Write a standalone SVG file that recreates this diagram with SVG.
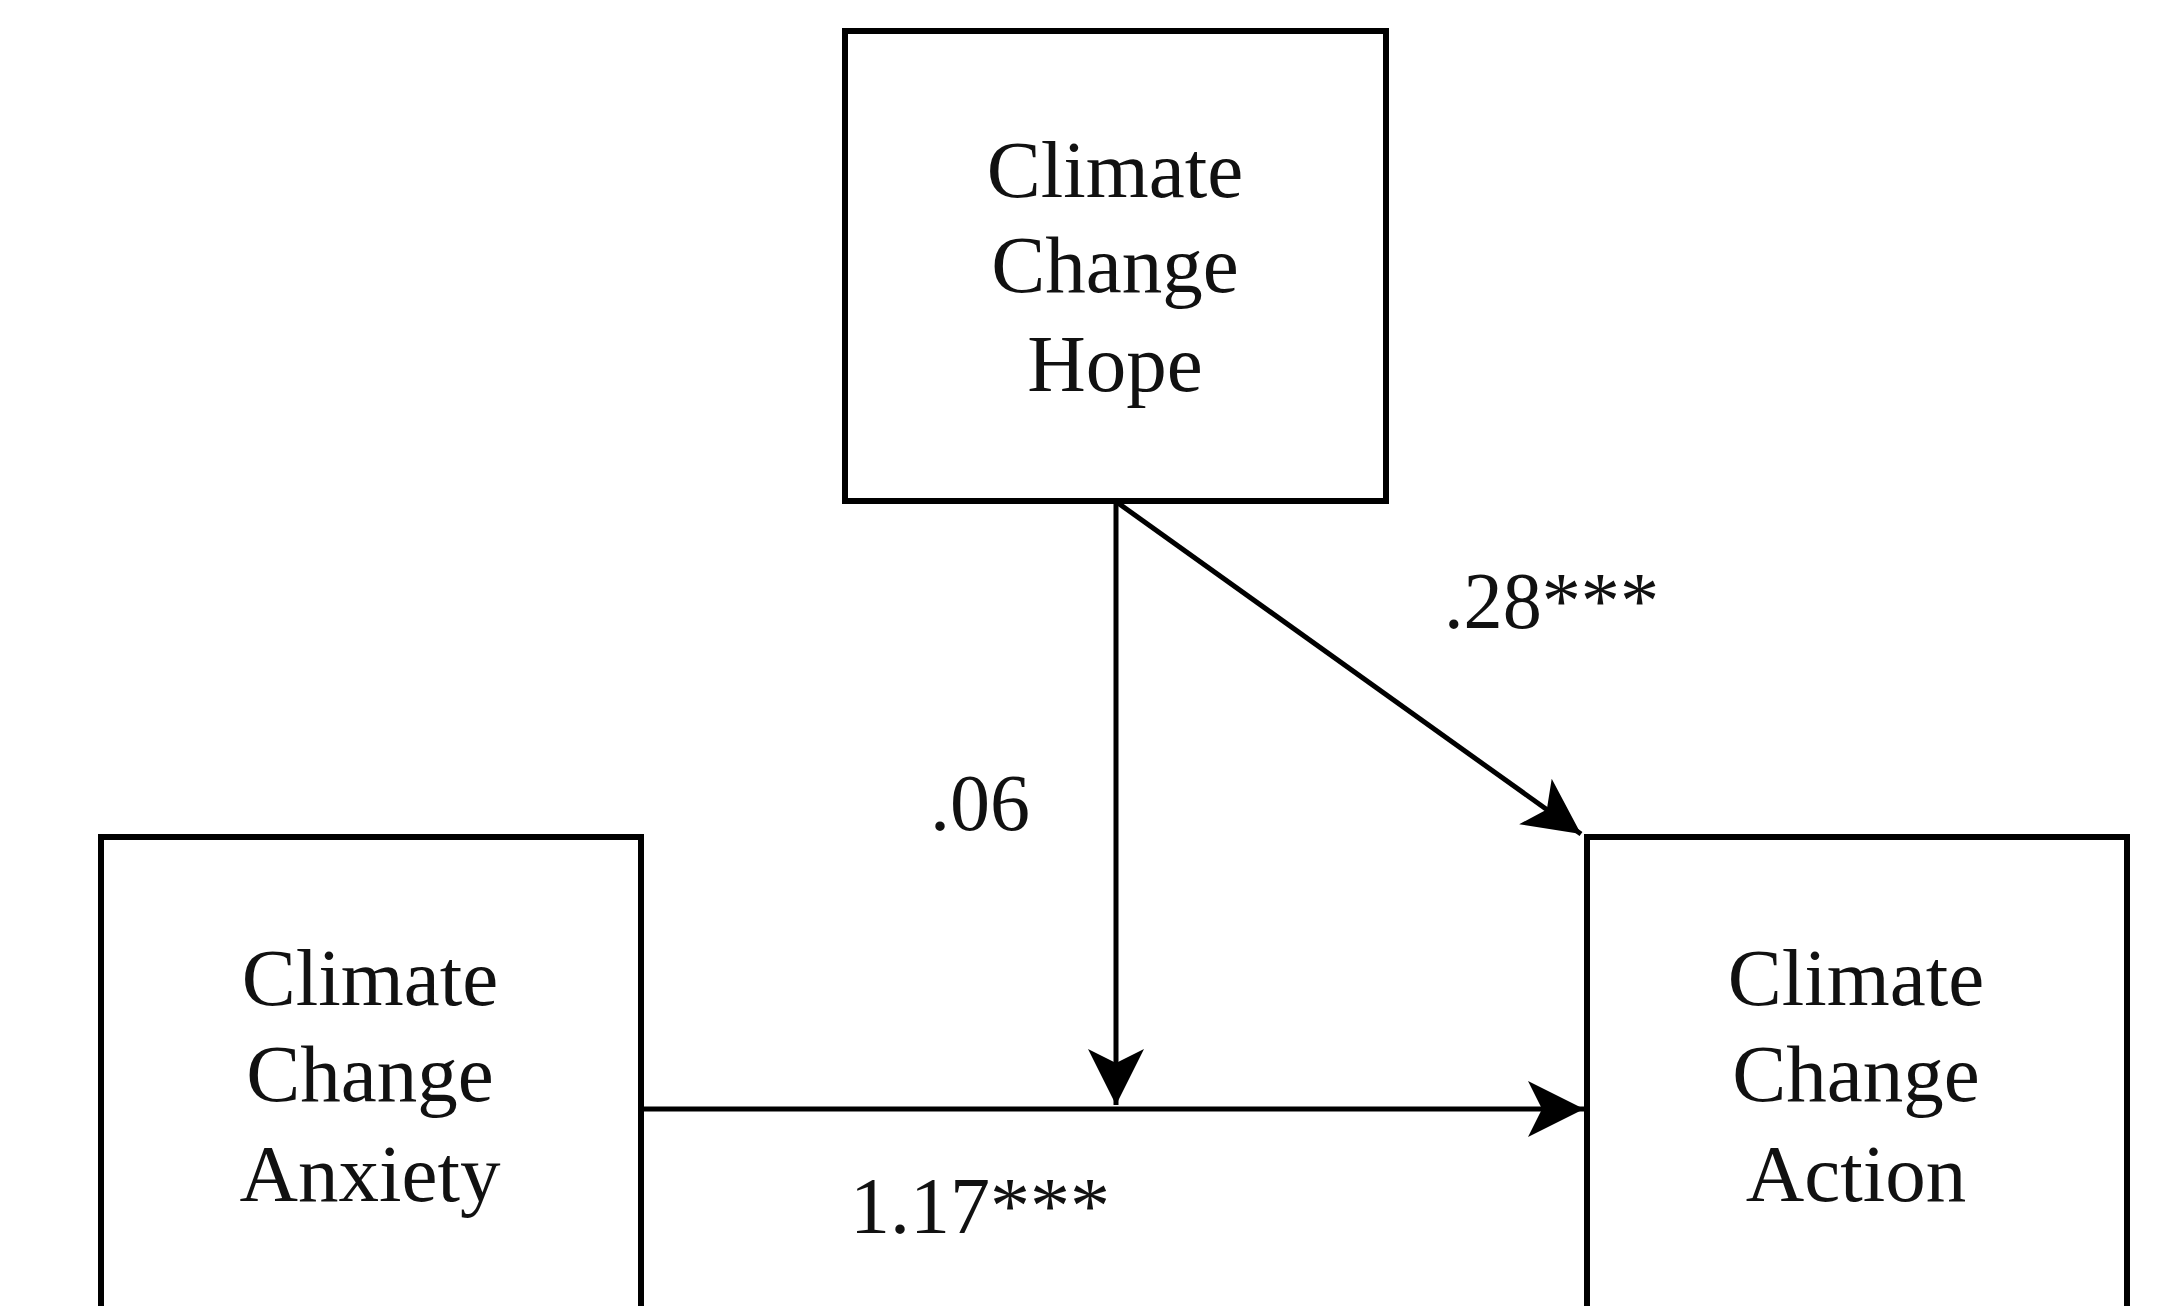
<svg xmlns="http://www.w3.org/2000/svg" width="2177" height="1306" viewBox="0 0 2177 1306">
<style>
.box{fill:#fff;stroke:#000;stroke-width:6}
.lbl{font-family:"Liberation Serif","Times New Roman",serif;font-size:81px;fill:#111;text-anchor:middle}
.edge{fill:none;stroke:#000;stroke-width:5}
.coef{font-family:"Liberation Serif","Times New Roman",serif;font-size:80px;fill:#111}
</style>
<defs>
<marker id="arr" markerUnits="userSpaceOnUse" markerWidth="70" markerHeight="70" viewBox="-60 -35 70 70" refX="0" refY="0" orient="auto">
<path d="M0,0 L-56,-28 L-42,0 L-56,28 Z" fill="#000"/>
</marker>
</defs>
<rect width="2177" height="1306" fill="#fff"/>
<g id="hope">
<rect class="box" x="845" y="31" width="541" height="470"/>
<text class="lbl" x="1115" y="197">Climate</text>
<text class="lbl" x="1115" y="292">Change</text>
<text class="lbl" x="1115" y="391">Hope</text>
</g>
<g id="anxiety">
<rect class="box" x="101" y="837" width="540" height="520"/>
<text class="lbl" x="370" y="1005">Climate</text>
<text class="lbl" x="370" y="1101">Change</text>
<text class="lbl" x="370" y="1201">Anxiety</text>
</g>
<g id="action">
<rect class="box" x="1587" y="837" width="540" height="520"/>
<text class="lbl" x="1856" y="1005">Climate</text>
<text class="lbl" x="1856" y="1101">Change</text>
<text class="lbl" x="1856" y="1201">Action</text>
</g>
<g id="connectors">
<line class="edge" x1="641" y1="1109" x2="1584" y2="1109" marker-end="url(#arr)"/>
<line class="edge" x1="1116" y1="504" x2="1116" y2="1105" marker-end="url(#arr)"/>
<line class="edge" x1="1118" y1="503" x2="1581" y2="834" marker-end="url(#arr)"/>
<text class="coef" x="1444" y="628" textLength="215" lengthAdjust="spacingAndGlyphs">.28***</text>
<text class="coef" x="930" y="830">.06</text>
<text class="coef" x="850" y="1233">1.17***</text>
</g>
</svg>
